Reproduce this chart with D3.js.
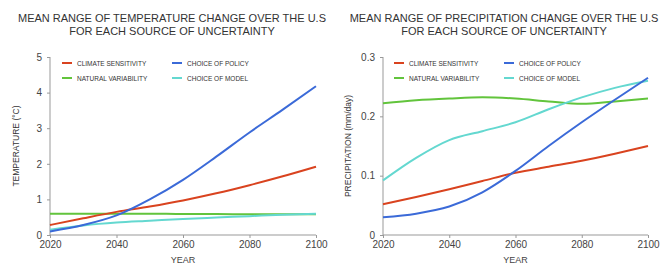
<!DOCTYPE html>
<html>
<head>
<meta charset="utf-8">
<script src="https://cdn.jsdelivr.net/npm/d3@7"></script>
<style>
  body { margin: 0; background: #fff; }
  svg { font-family: "Liberation Sans", Arial, sans-serif; }
  .axis path, .axis line { stroke: #999; }
  .axis text { fill: #444; font-size: 10px; }
</style>
</head>
<body>
<div id="chart"></div>
<script>
// data
var years = [2020, 2030, 2040, 2050, 2060, 2070, 2080, 2090, 2100];
var seriesNames = ["CLIMATE SENSITIVITY", "NATURAL VARIABILITY", "CHOICE OF POLICY", "CHOICE OF MODEL"];
var seriesColors = ["#d9431f", "#62c43c", "#3b6ad8", "#64d8d0"];

var tempSensitivity = [0.28, 0.47, 0.65, 0.80, 0.97, 1.17, 1.40, 1.65, 1.92];
var tempNatural     = [0.60, 0.60, 0.60, 0.60, 0.59, 0.59, 0.58, 0.58, 0.58];
var tempPolicy      = [0.10, 0.28, 0.55, 1.00, 1.55, 2.20, 2.88, 3.52, 4.18];
var tempModel       = [0.15, 0.27, 0.35, 0.40, 0.45, 0.49, 0.53, 0.57, 0.60];

var precSensitivity = [0.052, 0.064, 0.077, 0.091, 0.105, 0.115, 0.125, 0.137, 0.150];
var precNatural     = [0.222, 0.227, 0.230, 0.232, 0.230, 0.225, 0.221, 0.225, 0.230];
var precPolicy      = [0.030, 0.036, 0.048, 0.072, 0.108, 0.150, 0.190, 0.228, 0.265];
var precModel       = [0.092, 0.130, 0.160, 0.175, 0.190, 0.212, 0.232, 0.248, 0.260];

var tempTicks = [0, 1, 2, 3, 4, 5];
var precTicks = [0, 0.1, 0.2, 0.3];
var yearTicks = [2020, 2040, 2060, 2080, 2100];

var svg = d3.select("#chart").append("svg")
  .attr("width", 662).attr("height", 264);

function drawPanel(opt)
{
  var g = svg.append("g");
  var x = d3.scaleLinear().domain([2020, 2100]).range([opt.left, opt.right]);
  var y = d3.scaleLinear().domain([0, opt.max]).range([235, 57]);

  g.append("g").attr("class", "axis")
    .attr("transform", "translate(0,235)")
    .call(d3.axisBottom(x).tickValues(yearTicks).tickFormat(d3.format("d")).tickSize(3).tickPadding(3))
    .call(a => a.select(".domain").attr("d", "M" + opt.left + ",0H" + opt.right));

  g.append("g").attr("class", "axis")
    .attr("transform", "translate(" + opt.left + ",0)")
    .call(d3.axisLeft(y).tickValues(opt.ticks).tickFormat(opt.fmt).tickSize(3).tickPadding(5))
    .call(a => a.select(".domain").attr("d", "M0,235V57"));

  var line = d3.line()
    .x((d, i) => x(years[i]))
    .y(d => y(d))
    .curve(d3.curveMonotoneX);

  var order = [1, 3, 0, 2];
  order.forEach(function(k) {
    g.append("path")
      .attr("d", line(opt.series[k]))
      .attr("fill", "none")
      .attr("stroke", seriesColors[k])
      .attr("stroke-width", 2);
  });

  // title
  var t = g.append("text")
    .attr("x", opt.titleX).attr("y", 22)
    .attr("text-anchor", "middle")
    .attr("fill", "#333").attr("font-size", 11);
  t.append("tspan").attr("x", opt.titleX).text(opt.title[0]);
  t.append("tspan").attr("x", opt.titleX).attr("dy", 13).text(opt.title[1]);

  // legend
  seriesNames.forEach(function(name, i) {
    var col = Math.floor(i / 2), row = i % 2;
    var lx = opt.legendX[col], ly = 63 + row * 15;
    g.append("line")
      .attr("x1", lx).attr("x2", lx + 10)
      .attr("y1", ly).attr("y2", ly)
      .attr("stroke", seriesColors[i]).attr("stroke-width", 2);
    g.append("text")
      .attr("x", lx + 15).attr("y", ly + 2.5)
      .attr("font-size", 6.5).attr("fill", "#333")
      .text(name);
  });

  // axis titles
  g.append("text")
    .attr("transform", "translate(" + opt.yLabelX + ",146) rotate(-90)")
    .attr("text-anchor", "middle")
    .attr("font-size", 8.5).attr("fill", "#333")
    .text(opt.yLabel);
  g.append("text")
    .attr("x", (opt.left + opt.right) / 2).attr("y", 263)
    .attr("text-anchor", "middle")
    .attr("font-size", 9).attr("fill", "#444")
    .text("YEAR");
}

drawPanel({
  left: 50, right: 316, max: 5, ticks: tempTicks, fmt: d3.format("d"),
  series: [tempSensitivity, tempNatural, tempPolicy, tempModel],
  title: ["MEAN RANGE OF TEMPERATURE CHANGE OVER THE U.S", "FOR EACH SOURCE OF UNCERTAINTY"],
  titleX: 172, legendX: [62, 172], yLabel: "TEMPERATURE (\u00B0C)", yLabelX: 19
});

drawPanel({
  left: 383, right: 648, max: 0.3, ticks: precTicks, fmt: d => d === 0 ? "0" : d3.format(".1f")(d),
  series: [precSensitivity, precNatural, precPolicy, precModel],
  title: ["MEAN RANGE OF PRECIPITATION CHANGE OVER THE U.S", "FOR EACH SOURCE OF UNCERTAINTY"],
  titleX: 504, legendX: [394, 504], yLabel: "PRECIPITATION (mm/day)", yLabelX: 351
});
</script>
</body>
</html>
